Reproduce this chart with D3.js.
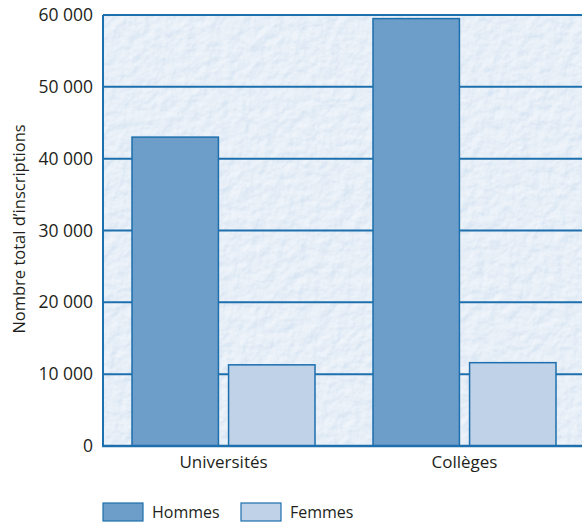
<!DOCTYPE html>
<html><head><meta charset="utf-8">
<script src="https://cdn.jsdelivr.net/npm/d3@7"></script>
<style>body{margin:0;background:#fff;}svg{display:block;font-family:"Open Sans",sans-serif;}</style>
</head><body>
<script>
const categories = ["Universités", "Collèges"];
const seriesNames = ["Hommes", "Femmes"];
const hommes = [43000, 59500];
const femmes = [11300, 11600];
const yTicks = [0, 10000, 20000, 30000, 40000, 50000, 60000];
const yTitle = "Nombre total d’inscriptions";

const W = 582, H = 523;
const m = {left: 103, top: 15, right: -3, bottom: 77};
const iw = W - m.left - m.right, ih = H - m.top - m.bottom;
const colors = ["#6d9dc9", "#bfd2e8"];
const stroke = "#1d6fad";

const svg = d3.select("body").append("svg").attr("width", W).attr("height", H);
const defs = svg.append("defs");
const f = defs.append("filter").attr("id","tex").attr("x",0).attr("y",0).attr("width","100%").attr("height","100%");
f.append("feTurbulence").attr("type","fractalNoise").attr("baseFrequency","0.09").attr("numOctaves",3).attr("seed",4).attr("result","n");
f.append("feDiffuseLighting").attr("in","n").attr("surfaceScale",1.6).attr("lighting-color","#ffffff").attr("result","l")
  .append("feDistantLight").attr("azimuth",235).attr("elevation",55);
f.append("feColorMatrix").attr("in","l").attr("type","matrix")
  .attr("values","0 0 0 0 1  0 0 0 0 1  0 0 0 0 1  1.6 0 0 0 -0.95").attr("result","w");
f.append("feComposite").attr("in","w").attr("in2","SourceGraphic").attr("operator","in").attr("result","wc");
f.append("feMerge").call(s=>{s.append("feMergeNode").attr("in","SourceGraphic");s.append("feMergeNode").attr("in","wc");});

const g = svg.append("g").attr("transform", `translate(${m.left},${m.top})`);
const x0 = d3.scaleBand().domain(categories).range([0, iw]).paddingInner(0).paddingOuter(0);
const x1 = d3.scaleBand().domain(seriesNames).range([29, x0.bandwidth() - 29]).paddingInner(0.105).paddingOuter(0);
const y = d3.scaleLinear().domain([0, 60000]).range([ih, 0]);

g.append("rect").attr("width", iw).attr("height", ih).attr("fill", "#d8e5f3").attr("filter","url(#tex)");

g.append("g").selectAll("line").data(yTicks).join("line")
  .attr("x1", 0).attr("x2", iw).attr("y1", d => y(d)).attr("y2", d => y(d))
  .attr("stroke", stroke).attr("stroke-width", 2);

const yAxis = d3.axisLeft(y).tickValues(yTicks).tickSize(0).tickPadding(10)
  .tickFormat(d => d3.format(",")(d).replace(/,/g, " "));
g.append("g").call(yAxis).call(a => a.select(".domain").remove())
  .selectAll("text").attr("font-size", 17.5).attr("fill", "#231f20").attr("font-family", '"Open Sans",sans-serif');

const data = categories.map((c, i) => ({c, vals: [hommes[i], femmes[i]]}));
g.append("g").selectAll("g").data(data).join("g")
  .attr("transform", d => `translate(${x0(d.c)},0)`)
  .selectAll("rect").data(d => d.vals.map((v, j) => ({s: seriesNames[j], v, j})))
  .join("rect")
  .attr("x", d => x1(d.s)).attr("width", x1.bandwidth())
  .attr("y", d => y(d.v)).attr("height", d => ih - y(d.v))
  .attr("fill", d => colors[d.j]).attr("stroke", stroke).attr("stroke-width", 1.5);

g.append("line").attr("x1", 0).attr("x2", 0).attr("y1", 0).attr("y2", ih).attr("stroke", stroke).attr("stroke-width", 2);
g.append("line").attr("x1", -1).attr("x2", iw).attr("y1", ih).attr("y2", ih).attr("stroke", stroke).attr("stroke-width", 2.5);

const xAxis = d3.axisBottom(x0).tickSize(0).tickPadding(10);
g.append("g").attr("transform", `translate(0,${ih})`).call(xAxis).call(a => a.select(".domain").remove())
  .selectAll("text").attr("font-size", 17).attr("fill", "#231f20").attr("font-family", '"Open Sans",sans-serif');

svg.append("text").attr("transform", `translate(25,229) rotate(-90)`).attr("text-anchor", "middle")
  .attr("font-size", 16.5).attr("fill", "#231f20").text(yTitle);

const leg = svg.append("g").attr("transform", "translate(103,503)");
const li = leg.selectAll("g").data(seriesNames).join("g").attr("transform", (d, i) => `translate(${i * 138},0)`);
li.append("rect").attr("width", 40).attr("height", 18).attr("fill", (d, i) => colors[i]).attr("stroke", stroke).attr("stroke-width", 1.2);
li.append("text").attr("x", 49).attr("y", 15).attr("font-size", 16).attr("fill", "#231f20").text(d => d);
</script>
</body></html>
